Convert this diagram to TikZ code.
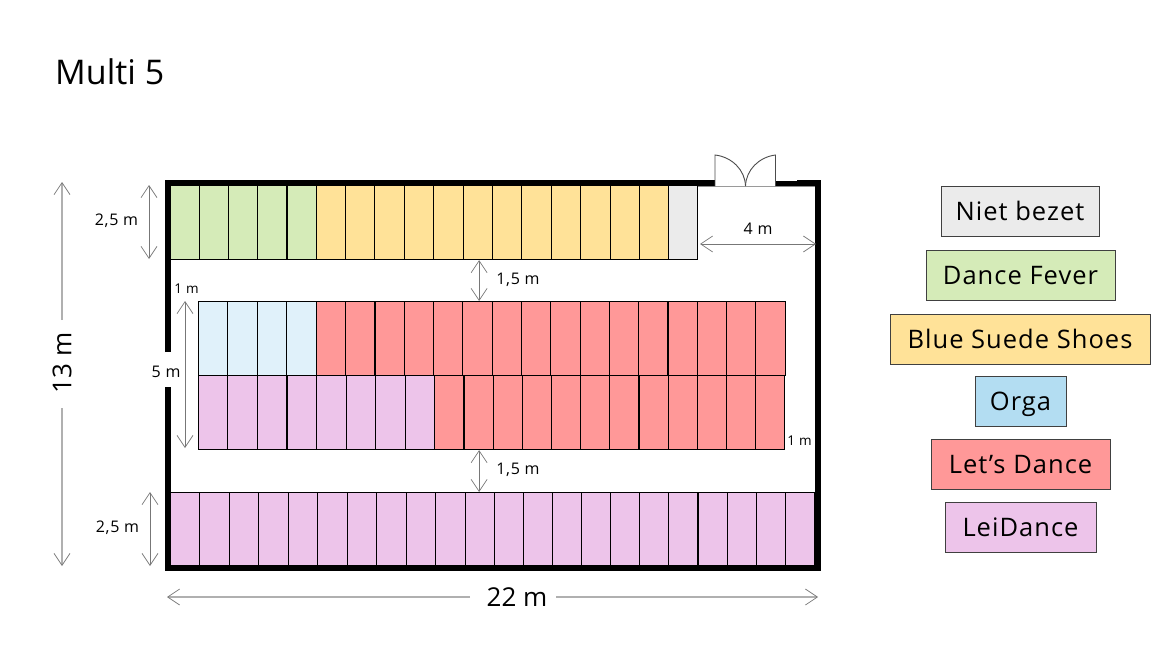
\documentclass[tikz,border=0pt]{standalone}
\usepackage{fontspec}
\setmainfont{Open Sans}
\newfontfamily\wideos[LetterSpace=4]{Open Sans}
\usetikzlibrary{arrows.meta}
\definecolor{cgray}{HTML}{EBEBEB}
\definecolor{cgreen}{HTML}{D5EBB8}
\definecolor{cyellow}{HTML}{FFE298}
\definecolor{cblue}{HTML}{E0F1FA}
\definecolor{corga}{HTML}{B3DDF2}
\definecolor{cred}{HTML}{FF9898}
\definecolor{clilac}{HTML}{EDC4EA}
\definecolor{dimgray}{HTML}{777777}
\definecolor{dimlight}{HTML}{B0B0B0}
\tikzset{
  seat/.style={draw=black,line width=1.1pt,minimum height=74pt,inner sep=0pt,anchor=north west,xshift=-.7pt},
  legend/.style={draw=black!75,line width=.9pt,minimum height=50pt,inner sep=0pt,text height=22pt,text depth=4pt,font=\wideos\fontsize{25.5}{28}\selectfont},
  wall/.style={line width=6pt,draw=black,line cap=butt},
  dim/.style={draw=dimgray,line width=.9pt,{Straight Barb[length=12pt,width=16pt,line width=.7pt]}-{Straight Barb[length=12pt,width=16pt,line width=.7pt]}},
  dimhalf/.style={draw=dimlight,line width=1.2pt,-{Straight Barb[length=12pt,width=16pt,line width=.7pt,color=dimgray]}},
  small/.style={inner sep=0pt,yshift=-1.5pt,font=\wideos\fontsize{16}{18}\selectfont},
  tiny/.style={inner sep=0pt,font=\wideos\fontsize{13.5}{16}\selectfont},
  big/.style={inner sep=0pt,font=\fontsize{26}{28}\selectfont}
}
\newcommand{\seatrow}[6]{% start x, y, first index, last index, width, color
  \foreach \i in {#3,...,#4}{
    \node[seat,fill=#6,minimum width=#5pt] (s#2-\i) at ({#1+(\i-#3)*#5},#2) {};
  }
}
\begin{document}
\begin{tikzpicture}[x=1pt,y=-1pt]
\useasboundingbox (0,0) rectangle (1170,658);
\node[anchor=west,inner sep=0pt,font=\fontsize{34}{40}\selectfont] (title) at (55,72) {Multi 5};

% top row
\seatrow{170.3}{185}{1}{5}{29.2}{cgreen}
\seatrow{316.3}{185}{6}{17}{29.39}{cyellow}
\seatrow{669}{185}{18}{18}{29}{cgray}
% middle rows
\seatrow{198.5}{301}{1}{4}{29.5}{cblue}
\seatrow{316.5}{301}{5}{20}{29.3}{cred}
\seatrow{198.5}{375}{1}{8}{29.55}{clilac}
\seatrow{435}{375}{9}{20}{29.17}{cred}
% bottom row
\seatrow{170.5}{492}{1}{10}{29.48}{clilac}
\seatrow{465.3}{492}{11}{22}{29.1}{clilac}

% walls
\draw[wall] (168,352) -- (168,183) -- (715,183);
\draw[wall,line width=4.5pt] (775,183.5) -- (797,183.5);
\draw[wall] (797,183) -- (818,183) -- (818,567.5) -- (168,567.5) -- (168,387);
\draw[draw=black!45,line width=.8pt] (698,186) -- (815,186);
% door
\draw[black!70,line width=.9pt,fill=white] (715,186) -- (715,155) .. controls (732,157) and (745,170) .. (745.5,186);
\draw[black!70,line width=.9pt,fill=white] (775.5,186) -- (775.5,155) .. controls (759,157) and (746,170) .. (745.5,186);

% dimensions
\coordinate (d13a) at (62,182); \coordinate (d13b) at (62,566);
\coordinate (d13c) at (62,320); \coordinate (d13d) at (62,408);
\node[big,rotate=90] (l13) at (62,363) {13 m};
\draw[dimhalf] (d13c) -- (d13a);
\draw[dimhalf] (d13d) -- (d13b);
\coordinate (d22a) at (167,597); \coordinate (d22b) at (818,597);
\coordinate (d22c) at (470,597); \coordinate (d22d) at (556,597);
\node[big] (l22) at (517,597) {22 m};
\draw[dimhalf] (d22c) -- (d22a);
\draw[dimhalf] (d22d) -- (d22b);
\coordinate (a1) at (149,185); \coordinate (a2) at (149,259);
\draw[dim] (a1) -- (a2);
\node[small] (l25a) at (116.5,219) {2,5 m};
\coordinate (b1) at (150,492); \coordinate (b2) at (150,566);
\draw[dim] (b1) -- (b2);
\node[small] (l25b) at (117.5,526) {2,5 m};
\coordinate (f1) at ([xshift=1.3pt]s185-11.south);
\coordinate (f2) at (f1 |- s301-10.north);
\draw[dim] (f1) -- (f2);
\node[small] (l15a) at (518,278) {1,5 m};
\coordinate (g1) at (f1 |- s375-10.south);
\coordinate (g2) at (f1 |- s492-11.north);
\draw[dim] (g1) -- (g2);
\node[small] (l15b) at (518,468) {1,5 m};
\node[tiny] (l1a) at (186.5,289) {1 m};
\node[tiny] (l1b) at (799.5,441) {1 m};
\node[small] (l5) at (166,370) {5 m};
\coordinate (c1) at (185,301); \coordinate (c2) at (185,448);
\draw[dim] (c1) -- (c2);
\coordinate (e1) at (700,244); \coordinate (e2) at (816,244);
\draw[dim] (e1) -- (e2);
\node[small] (l4) at (758,227) {4 m};

% legend
\node[legend,fill=cgray,minimum width=158pt] (k1) at (1020,211) {Niet bezet};
\node[legend,fill=cgreen,minimum width=189pt] (k2) at (1020.5,275) {Dance Fever};
\node[legend,fill=cyellow,minimum width=260pt] (k3) at (1020,339) {Blue Suede Shoes};
\node[legend,fill=corga,minimum width=91pt] (k4) at (1020.5,401) {Orga};
\node[legend,fill=cred,minimum width=179pt] (k5) at (1020.5,464) {Let’s Dance};
\node[legend,fill=clilac,minimum width=151pt] (k6) at (1020.5,527) {LeiDance};
\end{tikzpicture}
\end{document}
